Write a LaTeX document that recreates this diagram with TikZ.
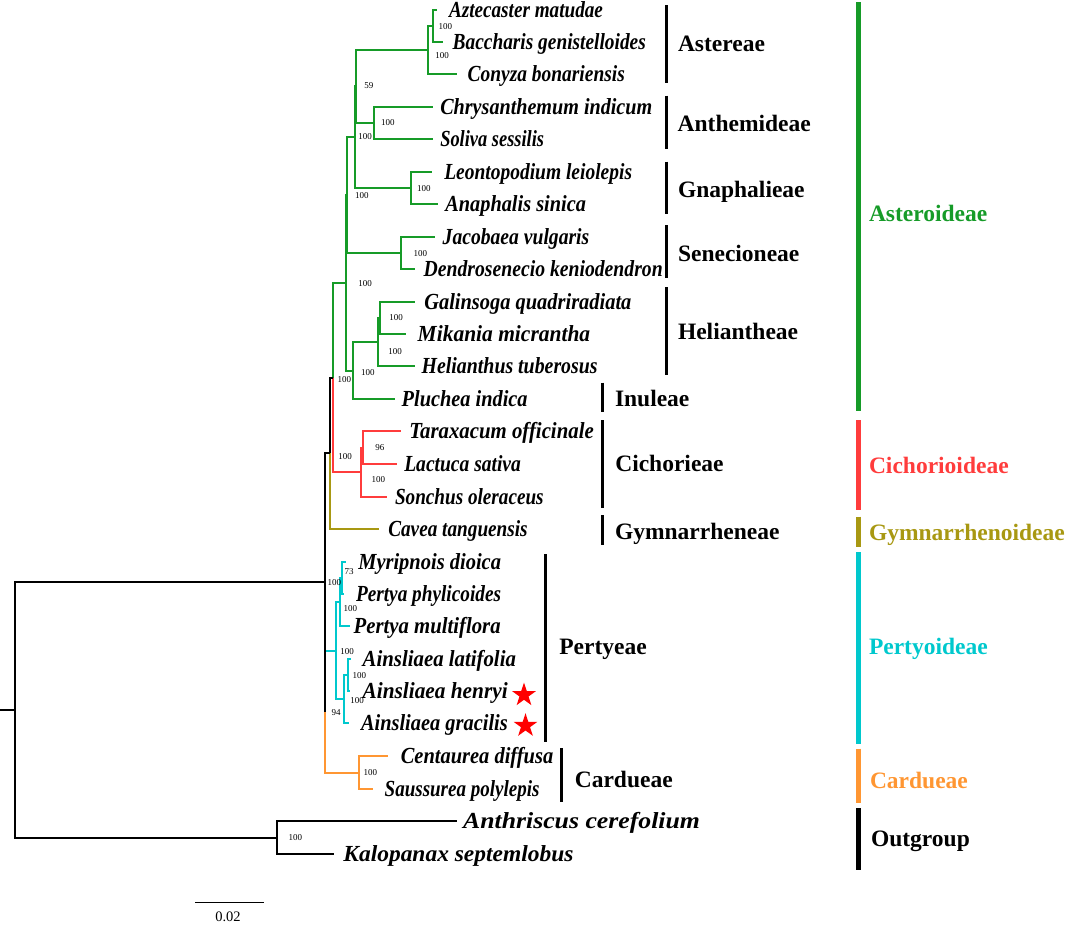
\documentclass[tikz,border=0pt]{standalone}
\usepackage{fontspec}
\setmainfont{Liberation Serif}
\usepackage{xcolor}
\usepackage{graphicx}
\usepackage{tikz}
\usetikzlibrary{shapes.geometric}
\definecolor{astgreen}{RGB}{22,155,40}
\definecolor{cicred}{RGB}{255,60,60}
\definecolor{gymolive}{RGB}{168,152,18}
\definecolor{percyan}{RGB}{0,200,205}
\definecolor{carorange}{RGB}{255,150,50}
\newcommand{\widen}[2]{\scalebox{#1}[1]{#2}}

\begin{document}
\begin{tikzpicture}[x=1pt, y=-1pt, line width=2pt]
	\tikzstyle{elbow}=[to path={|- (\tikztotarget)}]
	\tikzstyle{taxon}=[anchor=base west, inner sep=0pt, yshift=-7.6pt, font=\fontsize{23}{27}\selectfont\bfseries\itshape]
	\tikzstyle{boot}=[anchor=base west, inner sep=0pt, yshift=-3pt, font=\fontsize{9}{10}\selectfont]
	\tikzstyle{tribe}=[anchor=base west, inner sep=0pt, yshift=-7.8pt, font=\fontsize{23.5}{28}\selectfont\bfseries]
	\tikzstyle{tribebar}=[line width=3pt]
	\tikzstyle{subbar}=[line width=5pt]
	\tikzstyle{redstar}=[star, star points=5, star point ratio=2.618, fill=red, draw=none, minimum size=25pt, inner sep=0pt]

	\useasboundingbox (0,0) rectangle (1065,926);

	% tips
	\coordinate (t1) at (436.7,9.5);
	\coordinate (t2) at (443,42);
	\coordinate (t3) at (456.7,74.3);
	\coordinate (t4) at (433.3,106.7);
	\coordinate (t5) at (433,139);
	\coordinate (t6) at (431.7,171.7);
	\coordinate (t7) at (438,204);
	\coordinate (t8) at (435,236.7);
	\coordinate (t9) at (415,269);
	\coordinate (t10) at (415,301.5);
	\coordinate (t11) at (406,334);
	\coordinate (t12) at (415,366.3);
	\coordinate (t13) at (395,399);
	\coordinate (t14) at (400.7,431);
	\coordinate (t15) at (396.7,464);
	\coordinate (t16) at (387.3,497);
	\coordinate (t17) at (379.3,528.5);
	\coordinate (t18) at (346,561.7);
	\coordinate (t19) at (343.5,594);
	\coordinate (t20) at (350,626.3);
	\coordinate (t21) at (350.7,658.5);
	\coordinate (t22) at (350,691);
	\coordinate (t23) at (349,723.3);
	\coordinate (t24) at (388,756);
	\coordinate (t25) at (373,789);
	\coordinate (t26) at (457,821);
	\coordinate (t27) at (334,854);

	% inner nodes
	\coordinate (ab) at (432.7,25.75);
	\coordinate (ast) at (427.7,50);
	\coordinate (n1) at (356,86.4);
	\coordinate (ant) at (374.3,122.85);
	\coordinate (n2) at (354.5,137.2);
	\coordinate (gna) at (411,187.85);
	\coordinate (n3) at (346.5,195);
	\coordinate (sen) at (400.7,252.85);
	\coordinate (n4) at (345.7,282.75);
	\coordinate (gm) at (380,317.75);
	\coordinate (hel) at (378,342);
	\coordinate (hp) at (353,370.5);
	\coordinate (ac) at (333,377.6);
	\coordinate (tl) at (362.7,447.5);
	\coordinate (cic) at (361,472.25);
	\coordinate (g) at (330,453);
	\coordinate (i) at (325,582.3);
	\coordinate (j) at (325,711.5);
	\coordinate (per) at (336,650.5);
	\coordinate (pb) at (339.5,602.15);
	\coordinate (pa) at (341.5,577.85);
	\coordinate (ains) at (344,699.15);
	\coordinate (al) at (348.3,674.75);
	\coordinate (car) at (358.5,772.5);
	\coordinate (out) at (277,837.5);
	\coordinate (root) at (15,709.9);
	\coordinate (stub) at (0,709.9);

	\path
	(ab) edge[elbow, astgreen] (t1)
	     edge[elbow, astgreen] (t2)
	(ast) edge[elbow, astgreen] (ab)
	      edge[elbow, astgreen] (t3)
	(ant) edge[elbow, astgreen] (t4)
	      edge[elbow, astgreen] (t5)
	(n1) edge[elbow, astgreen] (ast)
	     edge[elbow, astgreen] (ant)
	(gna) edge[elbow, astgreen] (t6)
	      edge[elbow, astgreen] (t7)
	(n2) edge[elbow, astgreen] (n1)
	     edge[elbow, astgreen] (gna)
	(sen) edge[elbow, astgreen] (t8)
	      edge[elbow, astgreen] (t9)
	(n3) edge[elbow, astgreen] (n2)
	     edge[elbow, astgreen] (sen)
	(gm) edge[elbow, astgreen] (t10)
	     edge[elbow, astgreen] (t11)
	(hel) edge[elbow, astgreen] (gm)
	      edge[elbow, astgreen] (t12)
	(hp) edge[elbow, astgreen] (hel)
	     edge[elbow, astgreen] (t13)
	(n4) edge[elbow, astgreen] (n3)
	     edge[elbow, astgreen] (hp)
	(ac) edge[elbow, astgreen] (n4);

	\path
	(tl) edge[elbow, cicred] (t14)
	     edge[elbow, cicred] (t15)
	(cic) edge[elbow, cicred] (tl)
	      edge[elbow, cicred] (t16)
	(ac) edge[elbow, cicred] (cic);

	\path
	(g) edge[elbow, gymolive] (t17)
	(g) edge[elbow] (ac);

	\path
	(pa) edge[elbow, percyan] (t18)
	     edge[elbow, percyan] (t19)
	(pb) edge[elbow, percyan] (pa)
	     edge[elbow, percyan] (t20)
	(al) edge[elbow, percyan] (t21)
	     edge[elbow, percyan] (t22)
	(ains) edge[elbow, percyan] (al)
	       edge[elbow, percyan] (t23)
	(per) edge[elbow, percyan] (pb)
	      edge[elbow, percyan] (ains)
	(j) edge[elbow, percyan] (per);

	\path
	(car) edge[elbow, carorange] (t24)
	      edge[elbow, carorange] (t25)
	(j) edge[elbow, carorange] (car);

	\path
	(i) edge[elbow] (g)
	    edge[elbow] (j)
	(out) edge[elbow] (t26)
	      edge[elbow] (t27)
	(root) edge[elbow] (i)
	       edge[elbow] (out)
	(stub) edge (root);

	% taxon names
	\node[taxon] (l1) at (448,9.5) {\widen{0.834}{Aztecaster matudae}};
	\node[taxon] (l2) at (451.7,42) {\widen{0.842}{Baccharis genistelloides}};
	\node[taxon] (l3) at (466.7,74.3) {\widen{0.845}{Conyza bonariensis}};
	\node[taxon] (l4) at (439.3,106.7) {\widen{0.875}{Chrysanthemum indicum}};
	\node[taxon] (l5) at (439.3,139) {\widen{0.80}{Soliva sessilis}};
	\node[taxon] (l6) at (443.3,171.7) {\widen{0.847}{Leontopodium leiolepis}};
	\node[taxon] (l7) at (444.3,204) {\widen{0.884}{Anaphalis sinica}};
	\node[taxon] (l8) at (441.7,236.7) {\widen{0.853}{Jacobaea vulgaris}};
	\node[taxon] (l9) at (422.7,269) {\widen{0.856}{Dendrosenecio keniodendron}};
	\node[taxon] (l10) at (423.3,301.5) {\widen{0.888}{Galinsoga quadriradiata}};
	\node[taxon] (l11) at (416.7,334) {\widen{0.934}{Mikania micrantha}};
	\node[taxon] (l12) at (420.7,366.3) {\widen{0.863}{Helianthus tuberosus}};
	\node[taxon] (l13) at (400.7,399) {\widen{0.884}{Pluchea indica}};
	\node[taxon] (l14) at (408.3,431) {\widen{0.905}{Taraxacum officinale}};
	\node[taxon] (l15) at (403.3,464) {\widen{0.849}{Lactuca sativa}};
	\node[taxon] (l16) at (394,497) {\widen{0.834}{Sonchus oleraceus}};
	\node[taxon] (l17) at (387.3,528.5) {\widen{0.836}{Cavea tanguensis}};
	\node[taxon] (l18) at (357.3,561.7) {\widen{0.89}{Myripnois dioica}};
	\node[taxon] (l19) at (355,594) {\widen{0.838}{Pertya phylicoides}};
	\node[taxon] (l20) at (352.7,626.3) {\widen{0.902}{Pertya multiflora}};
	\node[taxon] (l21) at (361.7,658.5) {\widen{0.905}{Ainsliaea latifolia}};
	\node[taxon] (l22) at (361.7,691) {\widen{0.926}{Ainsliaea henryi}};
	\node[taxon] (l23) at (360,723.3) {\widen{0.887}{Ainsliaea gracilis}};
	\node[taxon] (l24) at (399.8,756) {\widen{0.889}{Centaurea diffusa}};
	\node[taxon] (l25) at (383.7,789) {\widen{0.827}{Saussurea polylepis}};
	\node[taxon] (l26) at (462.1,821) {\widen{1.12}{Anthriscus cerefolium}};
	\node[taxon] (l27) at (342.4,854) {\widen{1.02}{Kalopanax septemlobus}};

	\node[redstar] (s1) at (524,695) {};
	\node[redstar] (s2) at (525.5,725.7) {};

	% support values
	\node[boot] (b1) at (437.7,26) {100};
	\node[boot] (b2) at (434.3,55) {100};
	\node[boot] (b3) at (363.3,85) {59};
	\node[boot] (b4) at (380,122.7) {100};
	\node[boot] (b5) at (357.3,136.7) {100};
	\node[boot] (b6) at (416,188.3) {100};
	\node[boot] (b7) at (354,195) {100};
	\node[boot] (b8) at (412.7,253.3) {100};
	\node[boot] (b9) at (357.3,283.3) {100};
	\node[boot] (b10) at (388.3,317.7) {100};
	\node[boot] (b11) at (387.3,351) {100};
	\node[boot] (b12) at (360,372.7) {100};
	\node[boot] (b13) at (336.7,379.3) {100};
	\node[boot] (b14) at (374.3,447.7) {96};
	\node[boot] (b15) at (370.7,479) {100};
	\node[boot] (b16) at (337.3,456.7) {100};
	\node[boot] (b17) at (326.7,582.7) {100};
	\node[boot] (b18) at (343.7,571.7) {73};
	\node[boot] (b19) at (342.7,608) {100};
	\node[boot] (b20) at (339.3,651.7) {100};
	\node[boot] (b21) at (351.7,675) {100};
	\node[boot] (b22) at (349.3,700.7) {100};
	\node[boot] (b23) at (330.7,712.7) {94};
	\node[boot] (b24) at (362.7,772.7) {100};
	\node[boot] (b25) at (287.7,837.7) {100};

	% tribes
	\draw[tribebar] (666,5) -- (666,82.7);
	\draw[tribebar] (666,95.7) -- (666,149);
	\draw[tribebar] (666,161.7) -- (666,214.3);
	\draw[tribebar] (666.5,225) -- (666.5,278.3);
	\draw[tribebar] (666.5,287.3) -- (666.5,375);
	\draw[tribebar] (602.3,382.7) -- (602.3,411.7);
	\draw[tribebar] (602.3,420) -- (602.3,508.3);
	\draw[tribebar] (602.3,515) -- (602.3,545);
	\draw[tribebar] (545,554) -- (545,741.7);
	\draw[tribebar] (561.6,748.3) -- (561.6,801.7);
	\node[tribe] (astereae) at (677,44) {Astereae};
	\node[tribe] (anthemideae) at (676.7,123.3) {Anthemideae};
	\node[tribe] (gnaphalieae) at (677,189.3) {Gnaphalieae};
	\node[tribe] (senecioneae) at (677,254) {Senecioneae};
	\node[tribe] (heliantheae) at (677,331.7) {Heliantheae};
	\node[tribe] (inuleae) at (614,398.3) {Inuleae};
	\node[tribe] (cichorieae) at (614.3,463.3) {Cichorieae};
	\node[tribe] (gymnarrheneae) at (614,531.7) {Gymnarrheneae};
	\node[tribe] (pertyeae) at (558.3,646.7) {Pertyeae};
	\node[tribe] (cardueae) at (573.8,780) {Cardueae};

	% subfamilies
	\draw[subbar, astgreen] (858.3,2) -- (858.3,411);
	\draw[subbar, cicred] (858.3,420) -- (858.3,510);
	\draw[subbar, gymolive] (858.3,516.6) -- (858.3,547);
	\draw[subbar, percyan] (858.3,552) -- (858.3,744);
	\draw[subbar, carorange] (858.3,748.5) -- (858.3,803);
	\draw[subbar] (858.3,808) -- (858.3,870);
	\node[tribe, text=astgreen] (asteroideae) at (868,214) {Asteroideae};
	\node[tribe, text=cicred] (cichorioideae) at (868,466) {Cichorioideae};
	\node[tribe, text=gymolive] (gymnarrhenoideae) at (868,532.5) {Gymnarrhenoideae};
	\node[tribe, text=percyan] (pertyoideae) at (868,646.7) {Pertyoideae};
	\node[tribe, text=carorange] (carduoideae) at (869,781) {Cardueae};
	\node[tribe] (outgroup) at (870,839) {Outgroup};

	% scale bar
	\coordinate (sb1) at (195,902.7);
	\coordinate (sb2) at (264,902.7);
	\draw[line width=1.4pt] (sb1) -- (sb2);
	\node[anchor=base, inner sep=0pt, font=\fontsize{14.5}{16}\selectfont] (sbtext) at (228,921.5) {0.02};
\end{tikzpicture}
\end{document}
